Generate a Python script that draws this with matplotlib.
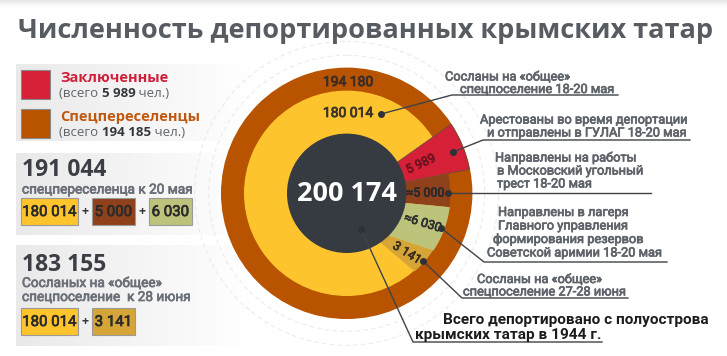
import numpy as np
import matplotlib.pyplot as plt
import matplotlib.patheffects as pe
from matplotlib.patches import Circle, Polygon, Rectangle

plt.rcParams['font.family'] = ['Open Sans', 'DejaVu Sans']
MED = ['Roboto', 'DejaVu Sans']

# ---- data ----
title = 'Численность депортированных крымских татар'
total_deported = 200174
outer_ring_total = 194180
general_may = 180014
legend_names = ['Заключенные', 'Спецпереселенцы']
legend_totals = [5989, 194185]
seg_values = [5989, 5000, 6030, 3141]
seg_approx = [False, True, True, False]
may_parts = [general_may, 5000, 6030]
june_parts = [general_may, 3141]
may_caption = ['спецпереселенца к 20 мая']
june_caption = ['Сосланых на «общее»', 'спецпоселение  к 28 июня']
note_general = ['Сосланы на «общее»', 'спецпоселение 18-20 мая']
seg_notes = [
    ['Арестованы во время депортации', 'и отправлены в ГУЛАГ 18-20 мая'],
    ['Направлены на работы', 'в Московский угольный', 'трест 18-20 мая'],
    ['Направлены в лагеря', 'Главного управления', 'формирования резервов',
     'Советской аримии 18-20 мая'],
    ['Сосланы на «общее»', 'спецпоселение 27-28 июня'],
]
total_note = ['Всего депортировано с полуострова', 'крымских татар в 1944 г.']

# ---- style ----
ORANGE = '#B85300'
YELLOW = '#FEC42D'
RED = '#D52037'
BROWN = '#8F411B'
GREEN = '#BEC37B'
OCHRE = '#D5A637'
DARK = '#363B42'
GRAY = '#5f646b'
TXT = '#33373d'
seg_colors = [RED, BROWN, GREEN, OCHRE]


def fmt(v):
    return f'{v:,}'.replace(',', ' ')


def heavy(color, w=0.45):
    # fake a medium weight with a thin stroke in the text colour
    return [pe.withStroke(linewidth=w, foreground=color)]


fig = plt.figure(figsize=(7.27, 3.56), dpi=100)
ax = fig.add_axes([0, 0, 1, 1])
ax.set_xlim(0, 727)
ax.set_ylim(356, 0)
ax.axis('off')

# top shade and left panels
top = np.linspace(0.9, 1.0, 20)[:, None, None] * np.ones((1, 2, 3))
ax.imshow(top, extent=(0, 727, 7, 0), aspect='auto', zorder=0)
grad = np.linspace(0.915, 1.0, 100)[None, :, None] * np.ones((1, 1, 3))
for y0, y1 in [(64, 141), (153, 235), (245, 346)]:
    ax.imshow(grad, extent=(16, 250, y1, y0), aspect='auto', zorder=0)
ax.set_xlim(0, 727)
ax.set_ylim(356, 0)

ax.text(18, 38, title, fontsize=19.5, fontweight='bold', color='#575c63')

# ---- ring chart ----
cx, cy = 346.7, 193.3
R_OUT, R_YEL, R_IN = 125, 102, 58

for r in (138, 152):
    ax.add_patch(Circle((cx, cy), r, fill=False, ec='#ebebeb', lw=0.8,
                        ls=(0, (4, 3)), zorder=1))
ax.add_patch(Circle((cx, cy), R_OUT, color=ORANGE, zorder=2))
ax.add_patch(Circle((cx, cy), R_YEL, color=YELLOW, zorder=3))

# segment edges: (angle at inner circle, angle at outer edge), degrees
edges = [(31.5, 33.5), (10.9, 11.1), (-9.5, -7.7), (-46, -33.5), (-56, -49)]
seg_r = [R_OUT, 103.5, 104, 103.5]


def pt(a, r):
    a = np.radians(a)
    return cx + r * np.cos(a), cy - r * np.sin(a)


for i, val in enumerate(seg_values):
    t, b = edges[i], edges[i + 1]
    inner = [pt(a, R_IN) for a in np.linspace(b[0], t[0], 30)]
    outer = [pt(a, seg_r[i]) for a in np.linspace(t[1], b[1], 30)]
    ax.add_patch(Polygon(inner + outer, closed=True, fc=seg_colors[i],
                         ec='#6a4a44' if i == 0 else 'none', lw=0.6, zorder=4))

ax.add_patch(Circle((cx, cy), R_IN + 1, color=DARK, zorder=5))
ax.text(cx, cy + 1, fmt(total_deported), fontsize=19.5, fontweight='bold',
        color='white', ha='center', va='center', zorder=6)
for val, y, col in [(outer_ring_total, 82, '#3b2e28'), (general_may, 113, '#3b3428')]:
    ax.text(348, y, fmt(val), fontsize=10, family=MED, color=col,
            ha='center', va='center', zorder=6, path_effects=heavy(col, 0.6))

label_pos = [(421, 164, 25), (425.5, 193, 0), (423, 223, -17), (407, 253, -32)]
label_cols = ['#6e1322', '#2a2a2a', '#2e2e2e', '#3a3020']
for i, val in enumerate(seg_values):
    x, y, rot = label_pos[i]
    s = ('≈' if seg_approx[i] else '') + fmt(val)
    ax.text(x, y, s, fontsize=9, family=MED, color=label_cols[i],
            ha='center', va='center', rotation=rot, rotation_mode='anchor',
            zorder=6, path_effects=heavy(label_cols[i], 0.5))

# ---- leaders and notes ----
leaders = [
    [(381, 114), (452, 95), (618, 95)],
    [(453, 152), (483, 140), (690, 140)],
    [(448, 193), (651, 193)],
    [(441, 228), (484, 262), (667, 262)],
    [(423, 261), (462, 298), (628, 298)],
    [(361, 229), (413, 342), (602, 342)],
]
for path in leaders:
    xs, ys = zip(*path)
    ax.plot(xs, ys, color='#3f4348', lw=1, zorder=7)
    ax.plot(xs[0], ys[0], 'o', ms=4, color='#2e3136', zorder=8)

note_lines = [note_general] + seg_notes
note_pos = [
    [(445, 80.5), (460, 93)],
    [(480, 123.5), (487, 136.5)],
    [(495, 161.5), (497, 174.5), (497, 187.5)],
    [(498, 216), (498, 229.5), (493, 243), (487, 256.5)],
    [(477, 283), (463, 295.5)],
]
for lines, pos in zip(note_lines, note_pos):
    for s, (x, y) in zip(lines, pos):
        ax.text(x, y, s, fontsize=9.2, family=MED, color=GRAY, zorder=9,
                path_effects=heavy(GRAY, 0.5))
for s, (x, y) in zip(total_note, [(443, 324), (415, 339)]):
    ax.text(x, y, s, fontsize=11.1, fontweight='bold', family=MED,
            color='#1c1c1c', zorder=9)

# ---- legend panel ----
leg_cols = [RED, ORANGE]
leg_txt = ['#D0213A', '#C0580E']
for i, name in enumerate(legend_names):
    y0 = 70 + i * 38.5
    ax.add_patch(Rectangle((21, y0), 29, 29, fc=leg_cols[i], ec='#8a8a8a',
                           lw=0.8, zorder=2))
    ax.text(60, y0 + 12, name, fontsize=10.5, fontweight='bold',
            color=leg_txt[i], zorder=3)
    t = ax.text(59, y0 + 27, '(всего ', fontsize=9.5, color=GRAY, zorder=3)
    t = ax.annotate(fmt(legend_totals[i]), xy=(1, 0), xycoords=t,
                    va='bottom', fontsize=9.5, fontweight='bold', color=TXT)
    ax.annotate(' чел.)', xy=(1, 0), xycoords=t, va='bottom', fontsize=9.5,
                color=GRAY)


def sum_boxes(y0, parts, colors):
    x = 21
    widths = [57 if p >= 100000 else 43 for p in parts]
    for j, (p, c, w) in enumerate(zip(parts, colors, widths)):
        ax.add_patch(Rectangle((x, y0), w, 27, fc=c, ec='#9a9a9a', lw=0.8,
                               zorder=2))
        ax.text(x + w / 2, y0 + 14, fmt(p), fontsize=10.8, family=MED,
                color='#2b2b2b', ha='center', va='center', zorder=3,
                path_effects=heavy('#2b2b2b', 0.5))
        x += w
        if j < len(parts) - 1:
            ax.text(x + 7, y0 + 14, '+', fontsize=9, fontweight='bold',
                    color=TXT, ha='center', va='center', zorder=3)
            x += 14


ax.text(22, 176.5, fmt(sum(may_parts)), fontsize=16.5, fontweight='bold',
        color='#3b3f45')
ax.text(22, 193.5, may_caption[0], fontsize=9.8, family=MED, color='#6b7078',
        path_effects=heavy('#6b7078', 0.5))
sum_boxes(198, may_parts, [YELLOW, BROWN, GREEN])

ax.text(22, 271, fmt(sum(june_parts)), fontsize=16.5, fontweight='bold',
        color='#3b3f45')
for k, s in enumerate(june_caption):
    ax.text(22, 287 + k * 14, s, fontsize=9.8, family=MED, color='#6b7078',
            path_effects=heavy('#6b7078', 0.5))
sum_boxes(308, june_parts, [YELLOW, OCHRE])

fig.savefig('out.png', dpi=100)
